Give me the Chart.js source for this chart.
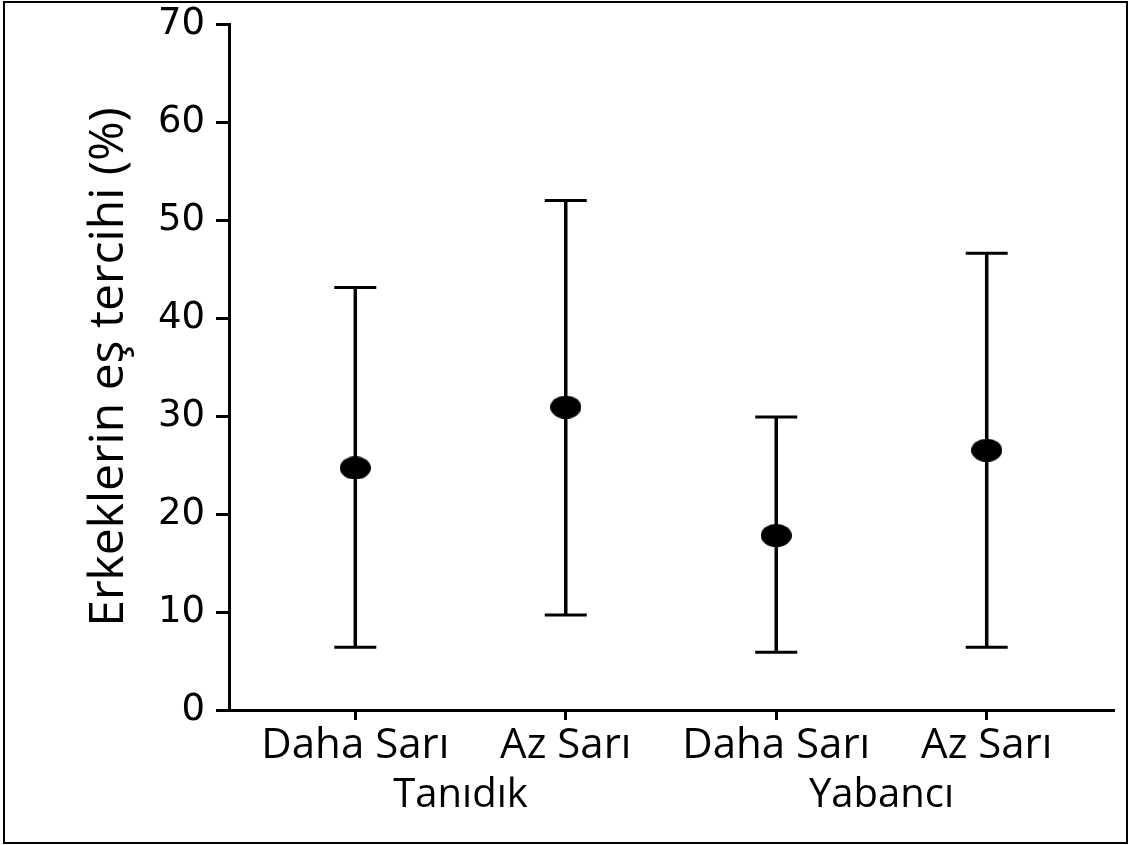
<!DOCTYPE html>
<html>
<head>
<meta charset="utf-8">
<script src="https://cdn.jsdelivr.net/npm/chart.js@4.4.1/dist/chart.umd.min.js"></script>
<style>
  html, body { margin: 0; padding: 0; background: #fff; }
  #wrap { position: relative; width: 1129px; height: 845px; }
  #chart { display: block; }
  #frame { position: absolute; left: 3px; top: 1px; width: 1121px; height: 839px; border: 2px solid #000; pointer-events: none; }
</style>
</head>
<body>
<div id="wrap">
  <canvas id="chart" width="1129" height="845"></canvas>
  <div id="frame"></div>
</div>
<script>
// values (percent)
const categories = ['Daha Sarı', 'Az Sarı', 'Daha Sarı', 'Az Sarı'];
const groups = ['Tanıdık', 'Yabancı'];
const groupPos = [1.5, 3.5];
const means = [24.7, 30.9, 17.8, 26.5];
const upper = [43.1, 52.0, 29.9, 46.6];
const lower = [6.4, 9.7, 5.9, 6.4];
const yTicks = [0, 10, 20, 30, 40, 50, 60, 70];

const xs = categories.map((c, i) => i + 1);

// the mean markers are slightly wide ellipses
const dot = document.createElement('canvas');
dot.width = 31;
dot.height = 23;
const dc = dot.getContext('2d');
dc.fillStyle = '#000';
dc.beginPath();
dc.ellipse(15.5, 11.5, 15.5, 11.5, 0, 0, Math.PI * 2);
dc.fill();

const black = '#000';

const datasets = [
  {
    type: 'scatter',
    data: xs.map((x, i) => ({ x, y: means[i] })),
    pointStyle: dot,
    pointRadius: 11
  },
  {
    // caps of the error bars
    type: 'scatter',
    data: xs.map((x, i) => ({ x, y: upper[i] })).concat(xs.map((x, i) => ({ x, y: lower[i] }))),
    pointStyle: 'line',
    pointRadius: 21,
    borderWidth: 3,
    borderColor: black
  }
].concat(xs.map((x, i) => ({
  type: 'line',
  data: [{ x, y: lower[i] }, { x, y: upper[i] }],
  borderColor: black,
  borderWidth: 3.5,
  pointRadius: 0
})));

// keep the plot box where the layout padding puts it
const noOverhang = (s) => {
  s.paddingTop = 0;
  s.paddingBottom = 0;
  s.paddingLeft = 0;
  s.paddingRight = 0;
};

Chart.defaults.color = black;

new Chart(document.getElementById('chart'), {
  type: 'scatter',
  data: { datasets },
  options: {
    responsive: false,
    animation: false,
    devicePixelRatio: 1,
    layout: { autoPadding: false, padding: { left: 0, right: 16, top: 24, bottom: 0 } },
    plugins: { legend: { display: false }, tooltip: { enabled: false } },
    scales: {
      x: {
        type: 'linear',
        position: 'bottom',
        min: 0.4,
        max: 4.6,
        afterBuildTicks: (s) => { s.ticks = xs.map(v => ({ value: v })); },
        ticks: {
          callback: (v, i) => categories[i],
          font: { family: 'Open Sans', size: 42 },
          color: black,
          padding: 1,
          maxRotation: 0,
          autoSkip: false
        },
        grid: { drawOnChartArea: false, tickLength: 10, lineWidth: 3, color: black },
        border: { display: true, width: 3, color: black },
        afterFit: (s) => { s.height = 54; noOverhang(s); }
      },
      x2: {
        type: 'linear',
        position: 'bottom',
        min: 0.4,
        max: 4.6,
        afterBuildTicks: (s) => { s.ticks = groupPos.map(v => ({ value: v })); },
        ticks: {
          callback: (v, i) => groups[i],
          font: { family: 'Open Sans', size: 40 },
          color: black,
          padding: 0,
          maxRotation: 0,
          autoSkip: false
        },
        grid: { display: false },
        border: { display: false },
        afterFit: (s) => { s.height = 81; noOverhang(s); }
      },
      y: {
        min: 0,
        max: 70,
        afterBuildTicks: (s) => { s.ticks = yTicks.map(v => ({ value: v })); },
        ticks: {
          font: { family: 'DejaVu Sans', size: 37 },
          color: black,
          padding: 11
        },
        grid: { drawOnChartArea: false, tickLength: 13, lineWidth: 3, color: black },
        border: { display: true, width: 3, color: black },
        title: {
          display: true,
          text: 'Erkeklerin eş tercihi (%)',
          font: { family: 'Open Sans', size: 48 },
          color: black,
          padding: { top: 81, bottom: 0 }
        },
        afterFit: (s) => { s.width = 229; noOverhang(s); }
      }
    }
  }
});
</script>
</body>
</html>
